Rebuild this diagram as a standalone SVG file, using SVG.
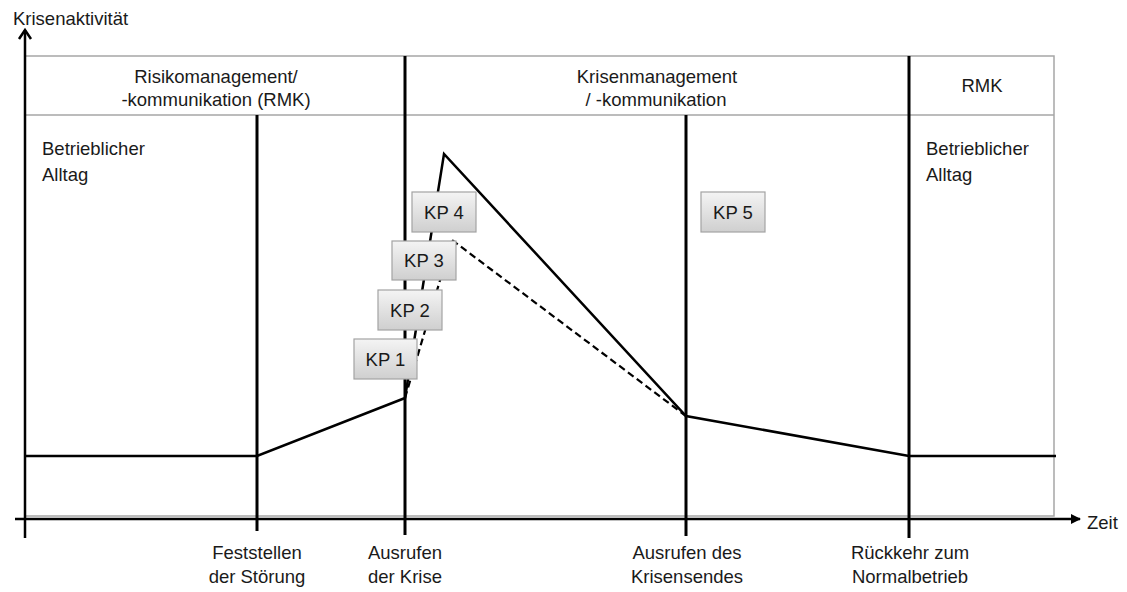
<svg xmlns="http://www.w3.org/2000/svg" width="1127" height="592" viewBox="0 0 1127 592">
<defs>
<linearGradient id="kpg" x1="0" y1="0" x2="0" y2="1">
<stop offset="0" stop-color="#f4f4f4"/>
<stop offset="1" stop-color="#cfcfcf"/>
</linearGradient>
<marker id="arr" viewBox="0 0 10 10" refX="9" refY="5" markerWidth="10" markerHeight="10" markerUnits="userSpaceOnUse" orient="auto">
<path d="M0,0 L10,5 L0,10 z" fill="#000"/>
</marker>
</defs>
<style>
text{font-family:"Liberation Sans",Arial,sans-serif;font-size:18.5px;fill:#1a1a1a}
.c{text-anchor:middle}
.frame{fill:none;stroke:#a6a6a6;stroke-width:1.5}
.v{stroke:#000;stroke-width:3}
.ax{stroke:#000;stroke-width:2.5;fill:none}
.curve{stroke:#000;stroke-width:2.5;fill:none;stroke-linejoin:miter}
.dash{stroke:#000;stroke-width:2.2;fill:none;stroke-dasharray:7 4}
.kp{fill:url(#kpg);stroke:#a3a3a3;stroke-width:1.2}
</style>
<g id="frame">
<rect class="frame" x="25" y="56" width="1029" height="460"/>
<line class="frame" x1="25" y1="115" x2="1054" y2="115"/>
</g>
<g id="headers">
<text class="c" x="216" y="83">Risikomanagement/</text>
<text class="c" x="216" y="106">-kommunikation (RMK)</text>
<text class="c" x="657" y="83">Krisenmanagement</text>
<text class="c" x="656" y="106">/ -kommunikation</text>
<text class="c" x="982" y="92">RMK</text>
<text x="42" y="155">Betrieblicher</text>
<text x="42" y="181">Alltag</text>
<text x="926" y="155">Betrieblicher</text>
<text x="926" y="181">Alltag</text>
</g>
<g id="axes">
<line class="ax" x1="25" y1="538" x2="25" y2="30"/>
<polyline class="ax" points="19,39 25,30 31,39"/>
<line class="ax" x1="15" y1="519" x2="1080" y2="519" marker-end="url(#arr)"/>
<text x="13" y="25">Krisenaktivität</text>
<text x="1087" y="529">Zeit</text>
</g>
<g id="connectors">
<line class="v" x1="257" y1="115" x2="257" y2="531"/>
<line class="v" x1="405" y1="56" x2="405" y2="535"/>
<line class="v" x1="686" y1="115" x2="686" y2="536"/>
<line class="v" x1="909" y1="56" x2="909" y2="538"/>
<polyline class="curve" points="25,456 257,456 405,398 444,154 686,416 909,456 1056,456"/>
<polyline class="dash" points="405,398 452,240 686,416"/>
</g>
<g id="kp1"><rect class="kp" x="354" y="339" width="63" height="40"/><text class="c" x="385.5" y="366">KP 1</text></g>
<g id="kp2"><rect class="kp" x="378" y="290" width="64" height="40"/><text class="c" x="410" y="317">KP 2</text></g>
<g id="kp3"><rect class="kp" x="392" y="241" width="64" height="39"/><text class="c" x="424" y="267">KP 3</text></g>
<g id="kp4"><rect class="kp" x="412" y="192" width="64" height="40"/><text class="c" x="444" y="219">KP 4</text></g>
<g id="kp5"><rect class="kp" x="701" y="192" width="64" height="40"/><text class="c" x="733" y="219">KP 5</text></g>
<g id="labels">
<text class="c" x="257" y="559">Feststellen</text>
<text class="c" x="257" y="583">der Störung</text>
<text class="c" x="405" y="559">Ausrufen</text>
<text class="c" x="405" y="583">der Krise</text>
<text class="c" x="687" y="559">Ausrufen des</text>
<text class="c" x="687" y="583">Krisensendes</text>
<text class="c" x="910" y="559">Rückkehr zum</text>
<text class="c" x="910" y="583">Normalbetrieb</text>
</g>
</svg>
